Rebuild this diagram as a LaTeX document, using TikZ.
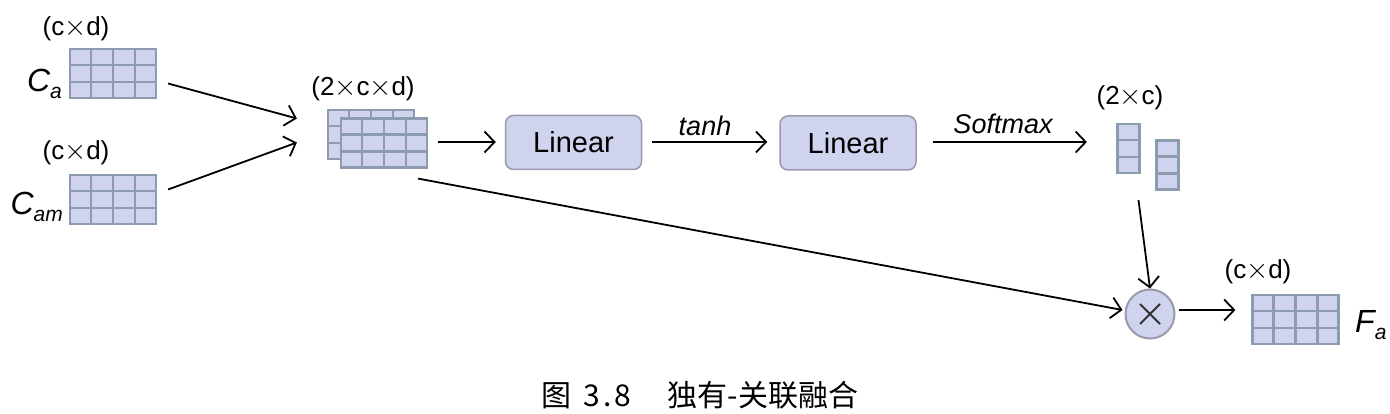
\documentclass[tikz,border=0pt]{standalone}
\usepackage{fontspec}
\setmainfont{Liberation Sans}
\newfontfamily\cjk{Noto Sans CJK SC}
\usetikzlibrary{arrows.meta,calc}
\definecolor{cellfill}{HTML}{D0D3EE}
\definecolor{cellline}{HTML}{8C9BAE}
\definecolor{boxline}{HTML}{9A9AAE}
\newcommand{\tms}{\makebox[22pt]{\scalebox{1.15}{$\times$}}}
\newcommand{\gridlines}[3]{%
  \foreach \i in {1,...,#2} {\pgfmathsetmacro\ff{\i/(#2+1)}
    \draw[cellline,line width=2.2pt] ($(#1.south west)!\ff!(#1.south east)$) -- ($(#1.north west)!\ff!(#1.north east)$);}
  \foreach \j in {1,...,#3} {\pgfmathsetmacro\gg{\j/(#3+1)}
    \draw[cellline,line width=2.2pt] ($(#1.south west)!\gg!(#1.north west)$) -- ($(#1.south east)!\gg!(#1.north east)$);}
}
\tikzset{
  gridbox/.style={draw=cellline,fill=cellfill,line width=2.2pt,minimum width=86pt,minimum height=49pt,inner sep=0pt},
  barbox/.style={draw=cellline,fill=cellfill,line width=2.2pt,minimum width=21pt,minimum height=49pt,inner sep=0pt},
  linbox/.style={draw=boxline,fill=cellfill,line width=1.5pt,rounded corners=8pt,minimum width=136pt,minimum height=54pt,inner sep=0pt,font=\fontsize{29}{31}\selectfont},
  dimlab/.style={font=\fontsize{26}{28}\selectfont,inner sep=0pt},
  varlab/.style={font=\fontsize{32}{34}\selectfont\itshape,inner sep=0pt},
  fnlab/.style={font=\fontsize{27}{29}\selectfont\itshape,inner sep=0pt},
  conn/.style={line width=1.8pt,-{Straight Barb[length=10pt,width=21pt,line width=1.8pt]}},
  mulnode/.style={circle,draw=boxline,fill=cellfill,line width=2pt,minimum size=49pt,inner sep=0pt},
}
\begin{document}
\begin{tikzpicture}[x=1pt,y=-1pt]
\useasboundingbox (0,0) rectangle (1390,414);
\fill[white] (0,0) rectangle (1390,414);
% inputs
\node[gridbox] (ca) at (113,73.5) {};
\gridlines{ca}{3}{2}
\node[gridbox] (cam) at (113,199.5) {};
\gridlines{cam}{3}{2}
\node[dimlab] (cadim) at (76,29) {(c\tms d)};
\node[dimlab] (camdim) at (76,153) {(c\tms d)};
\node[varlab,anchor=east] (calab) at (62,84) {C\raisebox{-7pt}{\fontsize{21}{21}\selectfont a}};
\node[varlab,anchor=east] (camlab) at (63,207) {C\raisebox{-7pt}{\fontsize{21}{21}\selectfont am}};
% stacked
\node[gridbox] (stb) at (371,134.5) {};
\gridlines{stb}{3}{2}
\node[gridbox] (stf) at (384,143) {};
\gridlines{stf}{3}{2}
\node[dimlab] (stdim) at (363,89) {(2\tms c\tms d)};
% linear boxes
\node[linbox] (lin1) at (573.5,142.5) {Linear};
\node[linbox] (lin2) at (848,143) {Linear};
\node[fnlab] (tanh) at (705,126) {tanh};
\node[fnlab] (soft) at (1003,124) {Softmax};
% bars
\node[barbox] (b1) at (1128.5,148.5) {};
\gridlines{b1}{0}{2}
\node[barbox] (b2) at (1167.5,165) {};
\gridlines{b2}{0}{2}
\node[dimlab] (bdim) at (1130,98) {(2\tms c)};
% multiply
\node[mulnode] (mul) at (1150,314) {};
\draw[line width=1.8pt,black!80] ($(mul.center)+(-10,-10)$) -- ($(mul.center)+(10,10)$)
  ($(mul.center)+(-10,10)$) -- ($(mul.center)+(10,-10)$);
% output
\node[gridbox] (fa) at (1295.5,319.5) {};
\gridlines{fa}{3}{2}
\node[dimlab] (fadim) at (1258,272) {(c\tms d)};
\node[varlab,anchor=west] (falab) at (1355,325) {F\raisebox{-7pt}{\fontsize{21}{21}\selectfont a}};
% connectors
\coordinate (a1s) at ($(ca.east)+(11,10)$);
\coordinate (a2s) at ($(cam.east)+(11,-10)$);
\coordinate (a1e) at ($(stb.west)+(-30,-16)$);
\coordinate (a2e) at ($(stb.west)+(-30,8)$);
\draw[conn] (a1s) -- (a1e);
\draw[conn] (a2s) -- (a2e);
\draw[conn] ($(stf.east)+(10,-1)$) -- ($(lin1.west)+(-9,-0.5)$);
\draw[conn] ($(lin1.east)+(10,-0.5)$) -- ($(lin2.west)+(-12,-1)$);
\draw[conn] ($(lin2.east)+(16,-1)$) -- ($(b1.west)+(-30,-6.5)$);
\draw[conn] ($(b1.south)+(10,26)$) -- (mul.north);
\draw[conn] ($(stf.south east)+(-10,10)$) -- ($(mul.west)+(-2,-4)$);
\draw[conn] ($(mul.east)+(3,-4)$) -- ($(fa.west)+(-16,-9.5)$);
% caption
\node[font=\cjk\fontsize{30}{32}\selectfont,inner sep=0pt] (cap) at (700,395) {图\hspace{12pt}3\hspace{3pt}.\hspace{3pt}8\hspace{36pt}独有-关联融合};
\end{tikzpicture}
\end{document}
